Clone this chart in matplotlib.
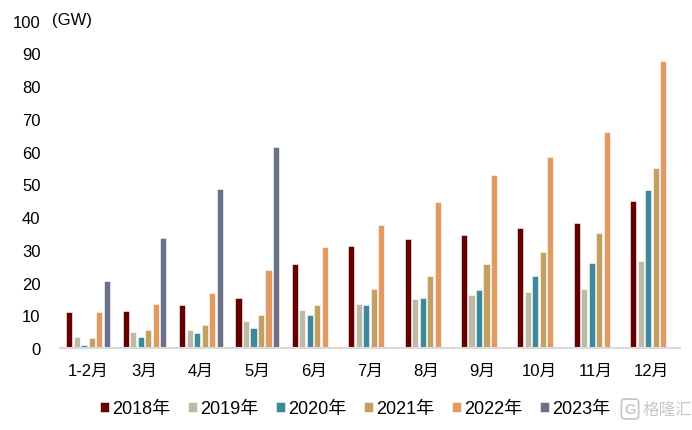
import numpy as np
import matplotlib.pyplot as plt

plt.rcParams['font.family'] = ['Liberation Sans', 'Noto Sans CJK SC', 'DejaVu Sans']

months = ['1-2月', '3月', '4月', '5月', '6月', '7月', '8月', '9月', '10月', '11月', '12月']
years = ['2018年', '2019年', '2020年', '2021年', '2022年', '2023年']

v2018 = [10.9, 11.4, 13.0, 15.2, 25.8, 31.3, 33.2, 34.6, 36.6, 38.3, 44.9]
v2019 = [3.5, 5.0, 5.5, 8.1, 11.7, 13.5, 15.0, 16.2, 17.2, 18.0, 26.5]
v2020 = [0.9, 3.5, 4.7, 6.1, 10.2, 13.1, 15.2, 17.7, 22.0, 26.0, 48.3]
v2021 = [3.2, 5.4, 7.0, 10.0, 13.1, 17.9, 22.1, 25.6, 29.4, 35.0, 54.9]
v2022 = [10.9, 13.3, 16.9, 23.8, 31.0, 37.7, 44.6, 52.8, 58.4, 66.0, 87.7]
v2023 = [20.4, 33.7, 48.5, 61.4]

series = [v2018, v2019, v2020, v2021, v2022, v2023]
colors = ['#640000', '#BDBAA6', '#3D899A', '#C3A062', '#E09A62', '#6B7089']

fig = plt.figure(figsize=(6.92, 4.31), dpi=100)
ax = fig.add_axes([60/692, 1 - 349/431, 620/692, (349 - 21.7)/431])

x = np.arange(len(months))
pitch = 0.133
width = 0.108
for i, (vals, c) in enumerate(zip(series, colors)):
    xs = x[:len(vals)] + (i - 2.5) * pitch
    ax.bar(xs, vals, width=width, color=c, edgecolor='white', linewidth=0.4, label=years[i])

ax.set_xlim(-0.5, len(months) - 0.5)
ax.set_ylim(0, 100)
ax.set_yticks(np.arange(0, 101, 10))
ax.set_xticks(x)
ax.set_xticklabels(months)
ax.tick_params(axis='both', length=0, labelsize=12, colors='black')
ax.tick_params(axis='y', pad=14)
ax.tick_params(axis='x', pad=11)

for s in ['top', 'right', 'left']:
    ax.spines[s].set_visible(False)
ax.spines['bottom'].set_color('#d9d9d9')
ax.spines['bottom'].set_linewidth(1.5)

fig.text(52/692, 1 - 21/431, '(GW)', fontsize=12, va='center', ha='left')

# legend centred under the bars, a bit left of the axes centre
leg = ax.legend(loc='center', bbox_to_anchor=((355 - 60) / 620, -(410 - 349) / 327.3), ncol=6,
                frameon=False, fontsize=13, handlelength=0.5, handleheight=0.5,
                handletextpad=0.2, columnspacing=0.95, borderpad=0)

# watermark
fig.text(630/692, 1 - 410/431, 'G', fontsize=10.5, color='#c8c8c8', ha='center', va='center',
         fontweight='bold',
         bbox=dict(boxstyle='round,pad=0.2', fc='white', ec='#c8c8c8', lw=1.3))
fig.text(643/692, 1 - 410/431, '格隆汇', fontsize=12, color='#c8c8c8', ha='left', va='center')

fig.savefig('out.png', dpi=100)
